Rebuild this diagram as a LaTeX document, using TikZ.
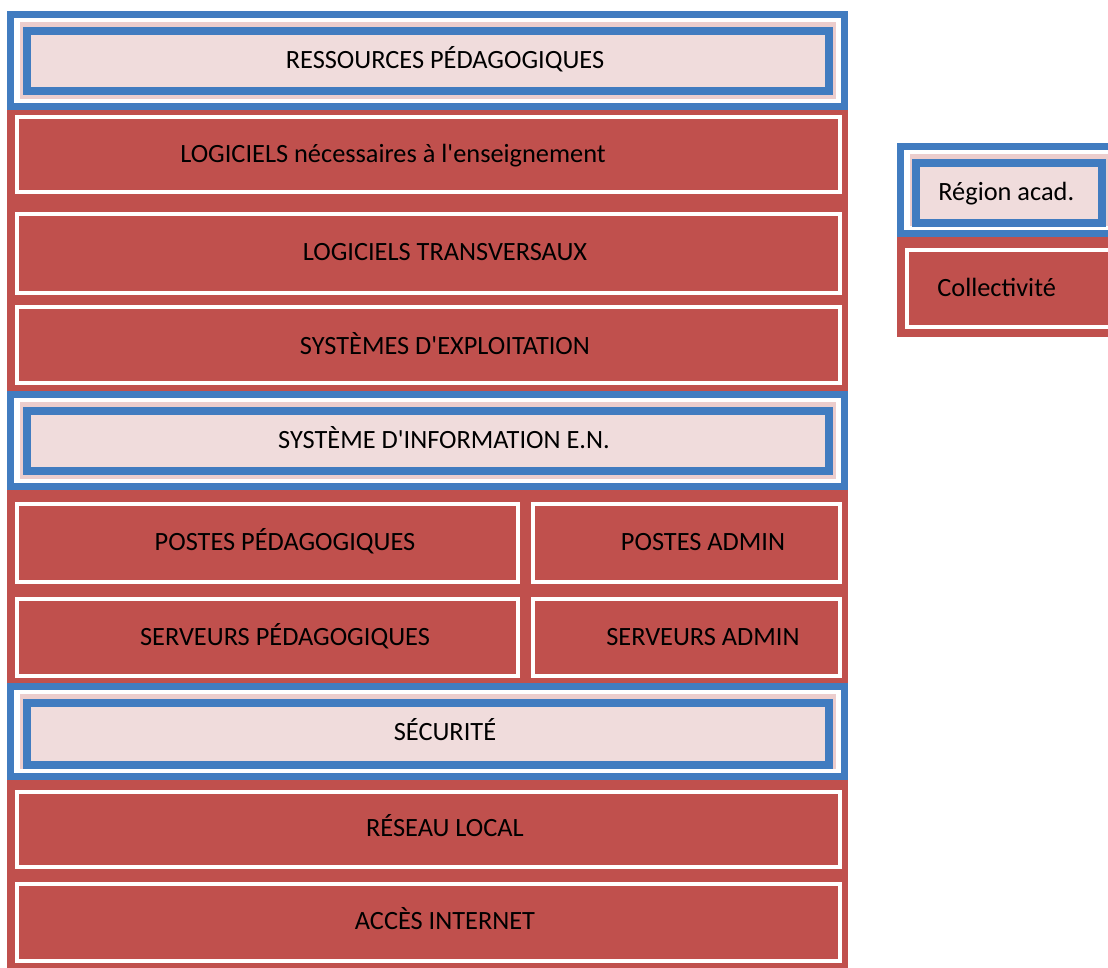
\documentclass[tikz,border=0pt]{standalone}
\usepackage{fontspec}
\setmainfont{Carlito}
\definecolor{layerblue}{RGB}{65,124,192}
\definecolor{layerred}{RGB}{192,80,77}
\definecolor{layerpink}{RGB}{240,220,220}
\definecolor{layerrim}{RGB}{236,205,205}

\begin{document}
\begin{tikzpicture}[x=0.02cm,y=-0.02cm,
	bluelayer/.style={draw=layerblue,line width=0.14cm,fill=white},
	bluebox/.style={draw=layerblue,line width=0.16cm,fill=layerpink},
	rim/.style={fill=layerrim},
	redlayer/.style={fill=layerred},
	redbox/.style={draw=white,line width=0.09cm,fill=layerred},
	lbl/.style={font=\fontsize{15}{17}\selectfont,text=black,inner sep=0pt,text height=1.38ex,text depth=0pt}]
	
	\useasboundingbox (0,0) rectangle (1108,967);
	\clip (0,0) rectangle (1108,967);
	
	% ressources
	\draw[bluelayer] (10.5,14.5) rectangle (844.5,106.5);
	\fill[rim] (20,22) rectangle (836,99);
	\draw[bluebox] (27,31) rectangle (829,91);
	\node[lbl] (ress) at (445,63) {RESSOURCES PÉDAGOGIQUES};
	
	% logiciels
	\fill[redlayer] (7,110) rectangle (848,391);
	\draw[redbox] (17,117) rectangle (840,192);
	\draw[redbox] (17,214) rectangle (840,293);
	\draw[redbox] (17,307) rectangle (840,383);
	\node[lbl] (logens) at (393,157) {LOGICIELS nécessaires à l\textquotesingle enseignement};
	\node[lbl] (logtrans) at (445,255) {LOGICIELS TRANSVERSAUX};
	\node[lbl] (sysexp) at (445,349) {SYSTÈMES D\textquotesingle EXPLOITATION};
	
	% systeme d'information
	\draw[bluelayer] (10.5,394.5) rectangle (844.5,486.5);
	\fill[rim] (20,402) rectangle (836,479);
	\draw[bluebox] (27,411) rectangle (829,471);
	\node[lbl] (sysinfo) at (444,443) {SYSTÈME D\textquotesingle INFORMATION E.N.};
	
	% postes et serveurs
	\fill[redlayer] (7,490) rectangle (848,683);
	\draw[redbox] (17,504) rectangle (518,582);
	\draw[redbox] (533,504) rectangle (840,582);
	\draw[redbox] (17,599) rectangle (518,676);
	\draw[redbox] (533,599) rectangle (840,676);
	\node[lbl] (postpeda) at (285,545) {POSTES PÉDAGOGIQUES};
	\node[lbl] (postadm) at (703,545) {POSTES ADMIN};
	\node[lbl] (servpeda) at (285,640) {SERVEURS PÉDAGOGIQUES};
	\node[lbl] (servadm) at (703,640) {SERVEURS ADMIN};
	
	% securite
	\draw[bluelayer] (10.5,686.5) rectangle (844.5,776.5);
	\fill[rim] (20,694) rectangle (836,769);
	\draw[bluebox] (27,703) rectangle (829,765);
	\node[lbl] (secu) at (445,735) {SÉCURITÉ};
	
	% reseau
	\fill[redlayer] (7,780) rectangle (848,975);
	\draw[redbox] (17,792) rectangle (840,867);
	\draw[redbox] (17,884) rectangle (840,961);
	\node[lbl] (reseau) at (445,831) {RÉSEAU LOCAL};
	\node[lbl] (acces) at (445,924) {ACCÈS INTERNET};
	
	% legende
	\draw[bluelayer] (900.5,146.5) rectangle (1118.5,233.5);
	\fill[rim] (910,154) rectangle (1110,226);
	\draw[bluebox] (916,163) rectangle (1102,223);
	\node[lbl,anchor=west] (region) at (938,195) {Région acad.};
	\fill[redlayer] (897,237) rectangle (1122,337);
	\draw[redbox] (907,250) rectangle (1115,327);
	\node[lbl,anchor=west] (collect) at (937,291) {Collectivité};
	
\end{tikzpicture}
\end{document}
